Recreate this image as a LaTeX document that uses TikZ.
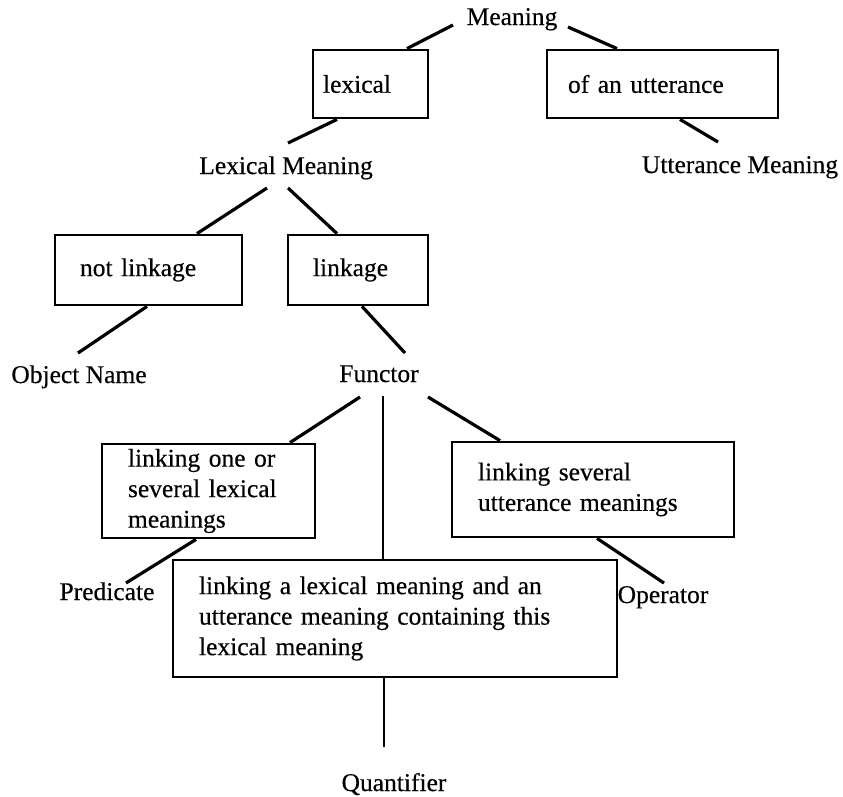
\documentclass[tikz,border=0pt]{standalone}
\usepackage{fontspec}
\setmainfont{Liberation Serif}[FakeBold=0.4]
\begin{document}
\begin{tikzpicture}[x=1pt,y=-1pt,
  every node/.style={font=\fontsize{25.5}{30.5}\selectfont},
  lbl/.style={anchor=base, inner sep=0pt},
  box/.style={draw, line width=2.8pt, align=left, inner xsep=25pt, inner ysep=0pt},
  branch/.style={line width=3.2pt}]
\useasboundingbox (0,0) rectangle (843,796);
\node[lbl] (mean)    at (512,25)  {Meaning};
\node[lbl] (lexmean) at (286,174) {Lexical Meaning};
\node[lbl] (uttmean) at (740,173) {Utterance Meaning};
\node[lbl] (objname) at (79,383)  {Object Name};
\node[lbl] (functor) at (379,382) {Functor};
\node[lbl] (pred)    at (107,600) {Predicate};
\node[lbl] (oper)    at (663,603) {Operator};
\node[lbl] (quant)   at (394,791) {Quantifier};
\node[box, inner xsep=10pt, text width=95pt, minimum height=68pt] (lexbox) at (370.5,84) {lexical};
\node[box, inner xsep=21pt, text width=189pt, minimum height=68pt] (uttbox) at (662.5,84) {of an utterance};
\node[box, text width=137pt, minimum height=70pt] (notlink) at (148.5,270) {not linkage};
\node[box, text width=90pt, minimum height=70pt] (link) at (358,270) {linkage};
\node[box, inner xsep=26pt, text width=161pt, minimum height=94pt] (predbox) at (208.5,491)
  {linking one or\\several lexical\\meanings};
\node[box, inner xsep=26pt, text width=230pt, minimum height=95pt] (operbox) at (593,489.5)
  {linking several\\utterance meanings};
\node[box, inner xsep=26pt, text width=392pt, minimum height=117pt] (quantbox) at (395,618.5)
  {linking a lexical meaning and an\\utterance meaning containing this\\lexical meaning};
\draw[branch] ([shift={(-59,0)}]mean.base) -- ([shift={(36.5,0)}]lexbox.north);
\draw[branch] ([shift={(-33.5,0)}]lexbox.south) -- ([shift={(2,-31)}]lexmean.base);
\draw[branch] ([shift={(56,2)}]mean.base) -- ([shift={(-45.5,0)}]uttbox.north);
\draw[branch] ([shift={(17.5,0)}]uttbox.south) -- ([shift={(-22,-31)}]uttmean.base);
\draw[branch] ([shift={(-19,14)}]lexmean.base) -- ([shift={(48.5,0)}]notlink.north);
\draw[branch] ([shift={(-1.5,0)}]notlink.south) -- ([shift={(-1,-30)}]objname.base);
\draw[branch] ([shift={(2,14)}]lexmean.base) -- ([shift={(-21,0)}]link.north);
\draw[branch] ([shift={(4,0)}]link.south) -- ([shift={(26,-29)}]functor.base);
\draw[branch] ([shift={(-19,15)}]functor.base) -- ([shift={(81.5,0)}]predbox.north);
\draw[branch] ([shift={(-12.5,0)}]predbox.south) -- ([shift={(19,-17)}]pred.base);
\draw[line width=2.2pt] ([shift={(4,14)}]functor.base) -- ([shift={(-12,0)}]quantbox.north);
\draw[branch] ([shift={(49,15)}]functor.base) -- ([shift={(-93,0)}]operbox.north);
\draw[branch] ([shift={(4,0)}]operbox.south) -- ([shift={(1,-20)}]oper.base);
\draw[line width=2.2pt] ([shift={(-11,0)}]quantbox.south) -- ([shift={(-10,-44)}]quant.base);
\end{tikzpicture}
\end{document}
